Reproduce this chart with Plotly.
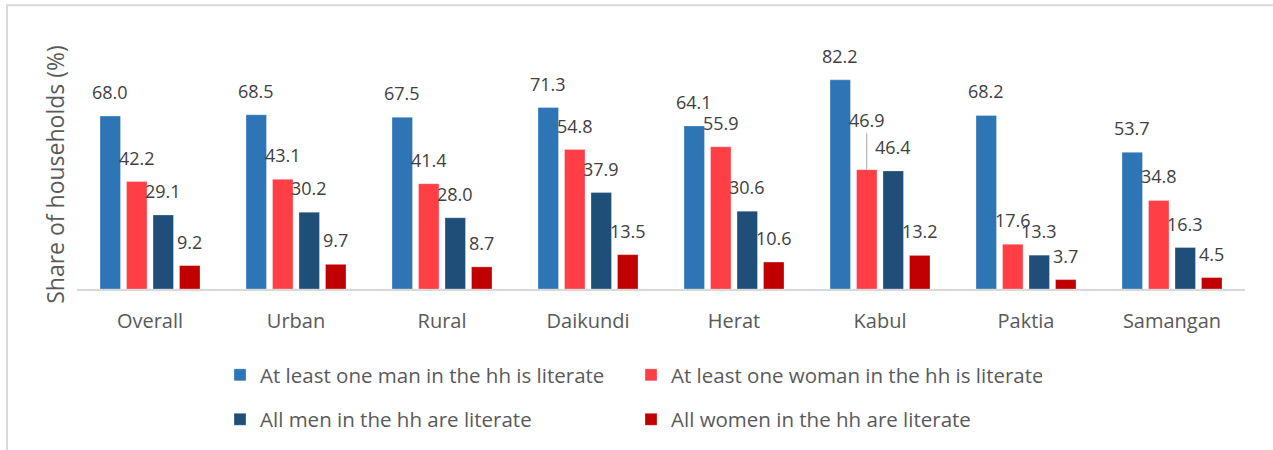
import plotly.graph_objects as go

categories = ["Overall", "Urban", "Rural", "Daikundi", "Herat", "Kabul", "Paktia", "Samangan"]
series_names = [
    "At least one man in the hh is literate",
    "At least one woman in the hh is literate",
    "All men in the hh are literate",
    "All women in the hh are literate",
]
man_any = [68.0, 68.5, 67.5, 71.3, 64.1, 82.2, 68.2, 53.7]
woman_any = [42.2, 43.1, 41.4, 54.8, 55.9, 46.9, 17.6, 34.8]
men_all = [29.1, 30.2, 28.0, 37.9, 30.6, 46.4, 13.3, 16.3]
women_all = [9.2, 9.7, 8.7, 13.5, 10.6, 13.2, 3.7, 4.5]
series_values = [man_any, woman_any, men_all, women_all]
colors = ["#2E75B6", "#FF3F45", "#1F4E79", "#C00000"]
legend_ids = ["legend", "legend", "legend2", "legend2"]

FONT = "Open Sans"
L, R, T, B = 77, 28, 60, 160
W, H = 1273, 450
plot_w = W - L - R
plot_h = H - T - B
cat_w = plot_w / len(categories)
bargap = 0.274
group_w = cat_w * (1 - bargap)
slot = group_w / len(series_values)

fig = go.Figure()
for i, (name, vals, col) in enumerate(zip(series_names, series_values, colors)):
    fig.add_trace(go.Bar(
        name=name, x=categories, y=vals,
        marker=dict(color=col, line=dict(color="rgba(255,255,255,0.5)", width=0.6)),
        legend=legend_ids[i],
    ))

annotations = []
for i, vals in enumerate(series_values):
    xs = (i - (len(series_values) - 1) / 2) * slot
    for c, v in zip(categories, vals):
        a = dict(x=c, y=v, text=f"{v:.1f}", xshift=xs,
                 font=dict(family=FONT, size=18, color="#404040"))
        if c == "Kabul" and i == 1:
            a.update(showarrow=True, ax=0, ay=-50, arrowhead=0, arrowwidth=1,
                     arrowcolor="#A6A6A6", standoff=0, startstandoff=0)
        else:
            a.update(showarrow=False, yshift=24)
        annotations.append(a)

legend_x = (220 - L) / plot_w
legend_common = dict(orientation="h", x=legend_x, xanchor="left", yanchor="middle",
                     entrywidth=366, entrywidthmode="pixels",
                     font=dict(family=FONT, size=20.5, color="#595959"),
                     bgcolor="rgba(0,0,0,0)")

fig.update_layout(
    width=W, height=H,
    margin=dict(l=L, r=R, t=T, b=B),
    paper_bgcolor="white", plot_bgcolor="white",
    barmode="group", bargap=bargap, bargroupgap=0.226,
    font=dict(family=FONT, color="#595959"),
    annotations=annotations,
    legend=dict(y=(H - B - 375) / plot_h, **legend_common),
    legend2=dict(y=(H - B - 419.5) / plot_h, **legend_common),
    shapes=[dict(type="rect", xref="paper", yref="paper",
                 x0=(7 - L) / plot_w, x1=(W + 20 - L) / plot_w,
                 y0=-(B + 20) / plot_h, y1=(H - B - 5) / plot_h,
                 line=dict(color="#D9D9D9", width=2), fillcolor="rgba(0,0,0,0)", layer="below")],
)
fig.update_xaxes(showline=True, linecolor="#D9D9D9", linewidth=2, showgrid=False,
                 ticks="outside", ticklen=13, tickcolor="rgba(0,0,0,0)",
                 tickfont=dict(family=FONT, size=20, color="#595959"))
fig.update_yaxes(range=[0, 90], showgrid=False, showticklabels=False, zeroline=False,
                 showline=False, ticks="",
                 title=dict(text="Share of households (%)", standoff=4,
                            font=dict(family=FONT, size=23, color="#595959")))

fig.write_html("out.html", config={"displayModeBar": False},
               post_script="document.body.style.margin='0';")
